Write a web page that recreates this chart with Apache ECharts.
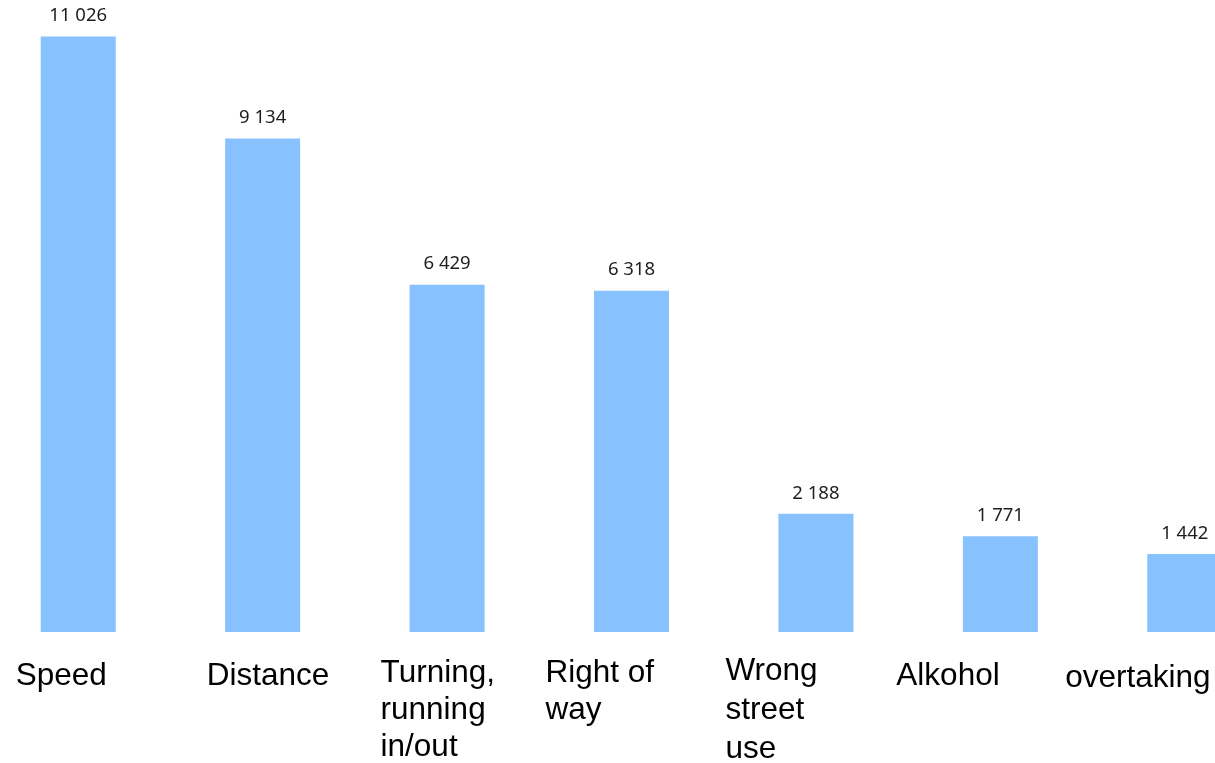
<!DOCTYPE html>
<html>
<head>
<meta charset="utf-8">
<script src="https://cdn.jsdelivr.net/npm/echarts@6/dist/echarts.min.js"></script>
<style>
  html, body { margin: 0; padding: 0; background: #ffffff; }
  #chart { width: 1215px; height: 763px; }
</style>
</head>
<body>
<div id="chart"></div>
<script>
// Accident causes and their counts
const categories = ['Speed', 'Distance', 'Turning,\nrunning\nin/out', 'Right of\nway', 'Wrong\nstreet\nuse', 'Alkohol', 'overtaking'];
const counts = [11026, 9134, 6429, 6318, 2188, 1771, 1442];

// Layout of each category label: box width (lines left-aligned inside), extra top offset, line height
const labelBoxWidths = [125, 112, 133, 172, 181, 208, 239];
const labelTopOffsets = [8, 8, 5, 5, 2, 8, 10];
const labelLineHeights = [37, 37, 37, 37, 39, 37, 37];

const rich = {};
labelBoxWidths.forEach(function (w, i) {
  rich['c' + i] = {
    width: w,
    align: 'left',
    fontFamily: '"Liberation Sans", Arial, sans-serif',
    fontSize: 31.5,
    lineHeight: labelLineHeights[i],
    color: '#000000'
  };
});

const categoryItems = categories.map(function (name, i) {
  return { value: name, textStyle: { padding: [labelTopOffsets[i], 0, 0, 0] } };
});

function groupThousands(v) {
  return String(v).replace(/\B(?=(\d{3})+(?!\d))/g, ' ');
}

const chart = echarts.init(document.getElementById('chart'), null, { renderer: 'canvas' });
chart.setOption({
  animation: false,
  grid: { left: -14, right: -62, top: 0, bottom: 131, containLabel: false, outerBoundsMode: 'none' },
  xAxis: {
    type: 'category',
    data: categoryItems,
    axisLine: { show: false },
    axisTick: { show: false },
    axisLabel: {
      interval: 0,
      margin: 18,
      align: 'center',
      verticalAlign: 'top',
      hideOverlap: false,
      formatter: function (value, idx) {
        return '{c' + idx + '|' + value + '}';
      },
      rich: rich
    }
  },
  yAxis: {
    type: 'value',
    min: 0,
    max: 11700,
    show: false,
    splitLine: { show: false }
  },
  series: [{
    type: 'bar',
    data: counts,
    barWidth: 75,
    itemStyle: { color: '#87c1fe' },
    label: {
      show: true,
      position: 'top',
      distance: 11,
      fontFamily: '"Noto Sans", sans-serif',
      fontSize: 18.5,
      color: '#1e1e1e',
      formatter: function (p) { return groupThousands(p.value); }
    }
  }]
});
</script>
</body>
</html>
